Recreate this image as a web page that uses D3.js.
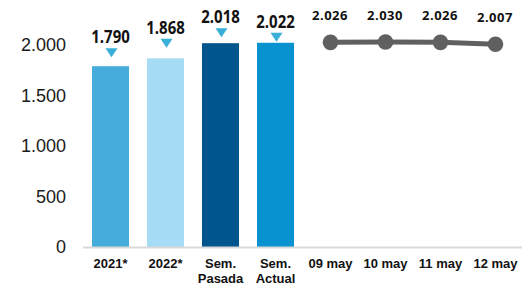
<!DOCTYPE html>
<html>
<head>
<meta charset="utf-8">
<script src="https://cdn.jsdelivr.net/npm/d3@7/dist/d3.min.js"></script>
<style>
  body { margin: 0; background: #fff; }
  svg { display: block; }
</style>
</head>
<body>
<svg class="chart"></svg>
<script>
var categories = ["2021*", "2022*", "Sem.|Pasada", "Sem.|Actual", "09 may", "10 may", "11 may", "12 may"];
var barValues = [1790, 1868, 2018, 2022];
var barColors = ["#45acdc", "#a6dcf5", "#00558c", "#0893d0"];
var markerValues = [1878, 1973, 2076, 2033];
var lineValues = [2026, 2030, 2026, 2007];
var yTicks = [0, 500, 1000, 1500, 2000];

var width = 530, height = 289;

var svg = d3.select(".chart")
	.attr("width", width)
	.attr("height", height);

var x = d3.scaleBand()
	.domain(categories)
	.range([83, 523])
	.paddingInner(0.327)
	.paddingOuter(0.164);

var y = d3.scaleLinear()
	.domain([0, 2000])
	.range([247, 45]);

var fmt = function(d) { return d3.format(",")(d).replace(/,/g, "."); };

// y axis labels
svg.append("g")
	.selectAll("text")
	.data(yTicks)
	.enter().append("text")
	.attr("x", 66)
	.attr("y", function(d) { return y(d); })
	.attr("dy", "0.36em")
	.attr("text-anchor", "end")
	.style("font", "18px 'Liberation Sans', Arial, sans-serif")
	.style("fill", "#1a1a1a")
	.text(fmt);

// bars
var barCats = categories.slice(0, 4);
svg.append("g")
	.selectAll("rect")
	.data(barValues)
	.enter().append("rect")
	.attr("x", function(d, i) { return x(barCats[i]); })
	.attr("y", function(d) { return y(d); })
	.attr("width", x.bandwidth())
	.attr("height", function(d) { return y(0) - y(d); })
	.style("fill", function(d, i) { return barColors[i]; });

// base line
svg.append("line")
	.attr("x1", 83).attr("x2", 522)
	.attr("y1", y(0) + 0.5).attr("y2", y(0) + 0.5)
	.style("stroke", "#d9d9d9")
	.style("stroke-width", 2);

// triangle markers
svg.append("g")
	.selectAll("path")
	.data(markerValues)
	.enter().append("path")
	.attr("d", function(d, i) {
		var cx = x(barCats[i]) + x.bandwidth() / 2 + 1, ty = y(d);
		return "M" + (cx - 6) + "," + (ty - 9) + "L" + (cx + 6) + "," + (ty - 9) + "L" + cx + "," + ty + "Z";
	})
	.style("fill", "#3aafd8");

// bar labels
svg.append("g")
	.selectAll("text")
	.data(barValues)
	.enter().append("text")
	.attr("transform", function(d, i) {
		return "translate(" + (x(barCats[i]) + x.bandwidth() / 2) + "," + (y(markerValues[i]) - 14) + ") scale(1,1.2)";
	})
	.attr("text-anchor", "middle")
	.style("font", "bold 15px 'Open Sans', sans-serif")
	.style("fill", "#111")
	.text(fmt);

// line series
var lineCats = categories.slice(4);
var line = d3.line()
	.x(function(d, i) { return x(lineCats[i]) + x.bandwidth() / 2; })
	.y(function(d) { return y(d); });

svg.append("path")
	.datum(lineValues)
	.attr("d", line)
	.style("fill", "none")
	.style("stroke", "#606060")
	.style("stroke-width", 5);

svg.append("g")
	.selectAll("circle")
	.data(lineValues)
	.enter().append("circle")
	.attr("cx", function(d, i) { return x(lineCats[i]) + x.bandwidth() / 2; })
	.attr("cy", function(d) { return y(d); })
	.attr("r", 7.8)
	.style("fill", "#606060");

svg.append("g")
	.selectAll("text")
	.data(lineValues)
	.enter().append("text")
	.attr("x", function(d, i) { return x(lineCats[i]) + x.bandwidth() / 2 - 0.5; })
	.attr("y", function(d) { return y(d) - 22; })
	.attr("text-anchor", "middle")
	.style("font", "bold 13px 'Open Sans', sans-serif")
	.style("letter-spacing", "0.5px")
	.style("fill", "#111")
	.text(fmt);

// x labels
var xl = svg.append("g")
	.selectAll("text")
	.data(categories)
	.enter().append("text")
	.attr("x", function(d) { return x(d) + x.bandwidth() / 2; })
	.attr("y", 268.3)
	.attr("text-anchor", "middle")
	.style("font", "bold 13px 'Liberation Sans', Arial, sans-serif")
	.style("fill", "#111");

xl.selectAll("tspan")
	.data(function(d) { return d.split("|"); })
	.enter().append("tspan")
	.attr("x", function() { return d3.select(this.parentNode).attr("x"); })
	.attr("dy", function(d, i) { return i ? 15 : 0; })
	.text(function(d) { return d; });
</script>
</body>
</html>
